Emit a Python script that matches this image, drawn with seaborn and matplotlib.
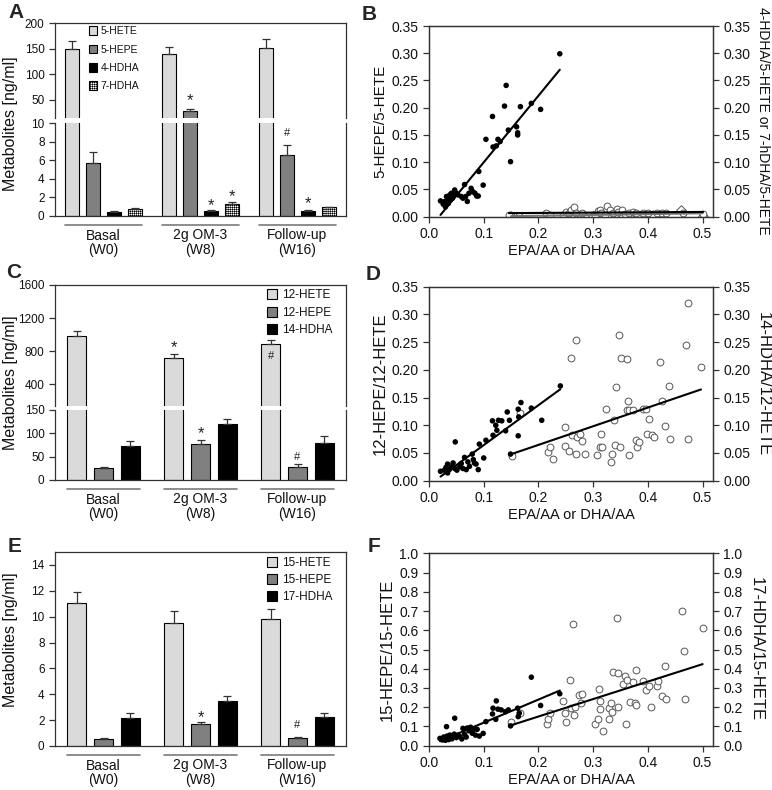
import numpy as np
import pandas as pd
import matplotlib
matplotlib.use("Agg")
import matplotlib.pyplot as plt
import matplotlib.transforms as mtransforms
from matplotlib.patches import Patch
import seaborn as sns

sns.set_theme(style="ticks")
plt.rcParams["font.family"] = ["Liberation Sans", "DejaVu Sans"]
plt.rcParams["hatch.linewidth"] = 0.4

# ---------------- data ----------------
groups = ["Basal\n(W0)", "2g OM-3\n(W8)", "Follow-up\n(W16)"]

# Panel A (ng/ml)
a_names = ["5-HETE", "5-HEPE", "4-HDHA", "7-HDHA"]
a_hete5 = [150, 139, 151]
a_hepe5 = [5.7, 27.2, 6.6]
a_hdha4 = [0.45, 0.58, 0.57]
a_hdha7 = [0.72, 1.3, 0.94]
a_hete5_err = [15, 14, 18]
a_hepe5_err = [1.2, 5.0, 1.0]
a_hdha4_err = [0.05, 0.07, 0.05]
a_hdha7_err = [0.1, 0.25, 0.07]

# Panel C (ng/ml)
c_names = ["12-HETE", "12-HEPE", "14-HDHA"]
c_hete12 = [978, 714, 883]
c_hepe12 = [25, 77, 28.5]
c_hdha14 = [73.6, 120, 80]
c_hete12_err = [62, 54, 49]
c_hepe12_err = [2, 8, 5]
c_hdha14_err = [10, 11.5, 14]

# Panel E (ng/ml)
e_names = ["15-HETE", "15-HEPE", "17-HDHA"]
e_hete15 = [11.04, 9.5, 9.82]
e_hepe15 = [0.57, 1.68, 0.62]
e_hdha17 = [2.2, 3.49, 2.25]
e_hete15_err = [0.86, 0.9, 0.8]
e_hepe15_err = [0.05, 0.16, 0.05]
e_hdha17_err = [0.35, 0.34, 0.34]

# Panel B
b_epa = [0.021, 0.026, 0.029, 0.030, 0.032, 0.035, 0.035, 0.038, 0.039, 0.041, 0.043, 0.044, 0.047, 0.050, 0.053,
         0.059, 0.062, 0.065, 0.067, 0.070, 0.073, 0.077, 0.080, 0.084, 0.087, 0.090, 0.091, 0.099, 0.104, 0.116,
         0.117, 0.123, 0.126, 0.130, 0.138, 0.141, 0.145, 0.149, 0.160, 0.162, 0.162, 0.167, 0.187, 0.204, 0.239]
b_hepe = [0.029, 0.023, 0.028, 0.018, 0.037, 0.032, 0.024, 0.040, 0.031, 0.043, 0.034, 0.037, 0.049, 0.043, 0.040,
          0.037, 0.034, 0.059, 0.037, 0.028, 0.043, 0.052, 0.046, 0.043, 0.038, 0.038, 0.083, 0.058, 0.142, 0.184,
          0.128, 0.130, 0.142, 0.138, 0.203, 0.241, 0.159, 0.101, 0.165, 0.154, 0.150, 0.202, 0.208, 0.197, 0.299]
b_dha = [0.146, 0.165, 0.213, 0.221, 0.245, 0.251, 0.256, 0.260, 0.265, 0.268, 0.279, 0.303, 0.309, 0.312, 0.315,
         0.321, 0.326, 0.330, 0.336, 0.343, 0.346, 0.352, 0.358, 0.366, 0.373, 0.379, 0.391, 0.400, 0.416, 0.425,
         0.434, 0.464, 0.501]
b_hdha4 = [0.003, 0.001, 0.007, 0.003, 0.003, 0.009, 0.006, 0.012, 0.017, 0.006, 0.006, 0.001, 0.011, 0.013, 0.006,
           0.003, 0.020, 0.012, 0.007, 0.015, 0.009, 0.012, 0.005, 0.007, 0.009, 0.006, 0.006, 0.007, 0.006, 0.006,
           0.007, 0.007, 0.005]
b_dha7 = [0.150, 0.218, 0.262, 0.300, 0.340, 0.380, 0.410, 0.461, 0.500]
b_hdha7 = [0.001, 0.002, 0.004, 0.002, 0.003, 0.004, 0.003, 0.013, 0.002]

# Panel D
d_epa = [0.021, 0.028, 0.031, 0.034, 0.037, 0.034, 0.041, 0.044, 0.047, 0.048, 0.051, 0.056, 0.059, 0.062, 0.065,
         0.068, 0.071, 0.074, 0.079, 0.081, 0.083, 0.086, 0.090, 0.092, 0.100, 0.104, 0.116, 0.117, 0.122, 0.124,
         0.127, 0.133, 0.140, 0.143, 0.147, 0.149, 0.163, 0.163, 0.164, 0.168, 0.187, 0.206, 0.240]
d_hepe = [0.017, 0.019, 0.024, 0.014, 0.020, 0.030, 0.025, 0.032, 0.022, 0.070, 0.019, 0.025, 0.031, 0.022, 0.042,
          0.020, 0.034, 0.026, 0.048, 0.038, 0.032, 0.030, 0.020, 0.066, 0.041, 0.073, 0.108, 0.082, 0.100, 0.091,
          0.109, 0.108, 0.090, 0.124, 0.109, 0.048, 0.129, 0.081, 0.115, 0.141, 0.131, 0.109, 0.171]
d_dha = [0.151, 0.166, 0.218, 0.222, 0.226, 0.248, 0.248, 0.256, 0.260, 0.262, 0.268, 0.269, 0.270, 0.276, 0.280,
         0.285, 0.307, 0.313, 0.315, 0.317, 0.323, 0.332, 0.335, 0.338, 0.340, 0.341, 0.348, 0.349, 0.350, 0.362,
         0.362, 0.364, 0.366, 0.366, 0.373, 0.378, 0.380, 0.384, 0.391, 0.396, 0.398, 0.402, 0.408, 0.411, 0.422,
         0.425, 0.431, 0.439, 0.440, 0.470, 0.474, 0.474, 0.497]
d_hdha = [0.045, 0.122, 0.051, 0.061, 0.040, 0.096, 0.063, 0.054, 0.222, 0.082, 0.254, 0.048, 0.078, 0.084, 0.072,
          0.048, 0.046, 0.061, 0.084, 0.060, 0.130, 0.034, 0.048, 0.109, 0.064, 0.169, 0.262, 0.060, 0.221, 0.219,
          0.127, 0.144, 0.127, 0.046, 0.127, 0.073, 0.060, 0.069, 0.129, 0.130, 0.084, 0.111, 0.082, 0.078, 0.215,
          0.143, 0.099, 0.171, 0.076, 0.245, 0.320, 0.076, 0.205]

# Panel F
f_epa = [0.020, 0.024, 0.027, 0.029, 0.030, 0.032, 0.033, 0.035, 0.036, 0.038, 0.040, 0.042, 0.044, 0.046, 0.047,
         0.050, 0.053, 0.056, 0.060, 0.062, 0.065, 0.068, 0.070, 0.073, 0.076, 0.079, 0.082, 0.085, 0.088, 0.092,
         0.099, 0.104, 0.116, 0.117, 0.122, 0.123, 0.126, 0.132, 0.140, 0.145, 0.149, 0.162, 0.163, 0.165, 0.187,
         0.204, 0.239]
f_hepe = [0.038, 0.030, 0.045, 0.035, 0.028, 0.099, 0.050, 0.040, 0.032, 0.055, 0.045, 0.036, 0.050, 0.060, 0.143,
          0.042, 0.055, 0.048, 0.035, 0.090, 0.060, 0.045, 0.092, 0.078, 0.096, 0.065, 0.085, 0.055, 0.085, 0.050,
          0.064, 0.125, 0.165, 0.195, 0.137, 0.233, 0.190, 0.186, 0.177, 0.186, 0.103, 0.195, 0.151, 0.169, 0.356,
          0.209, 0.270]
f_dha = [0.149, 0.166, 0.215, 0.218, 0.222, 0.244, 0.248, 0.251, 0.257, 0.260, 0.263, 0.265, 0.266, 0.274, 0.277,
         0.279, 0.303, 0.309, 0.310, 0.312, 0.313, 0.318, 0.329, 0.329, 0.332, 0.335, 0.337, 0.344, 0.345, 0.346,
         0.355, 0.359, 0.360, 0.361, 0.367, 0.372, 0.376, 0.378, 0.379, 0.391, 0.396, 0.402, 0.405, 0.416, 0.419,
         0.425, 0.432, 0.433, 0.463, 0.466, 0.468, 0.500]
f_hdha = [0.122, 0.168, 0.113, 0.139, 0.169, 0.230, 0.172, 0.122, 0.343, 0.195, 0.635, 0.160, 0.203, 0.264, 0.224,
          0.270, 0.113, 0.137, 0.294, 0.233, 0.190, 0.077, 0.137, 0.198, 0.221, 0.177, 0.383, 0.664, 0.200, 0.377,
          0.322, 0.360, 0.111, 0.343, 0.226, 0.330, 0.221, 0.391, 0.212, 0.337, 0.290, 0.308, 0.203, 0.308, 0.334,
          0.256, 0.412, 0.243, 0.699, 0.494, 0.242, 0.612]

# ---------------- style ----------------
C_LIGHT, C_MID, C_DARK = "#dadada", "#808080", "#000000"
SPINE = "#333333"
TXT = "#111111"

W, H = 772, 790
fig = plt.figure(figsize=(W / 100, H / 100), dpi=100)


def rect(x0, y0, x1, y1):
    return [x0 / W, 1 - y1 / H, (x1 - x0) / W, (y1 - y0) / H]


def style_axes(ax, hide=()):
    for s in ax.spines.values():
        s.set_color(SPINE)
        s.set_linewidth(0.9)
    for s in hide:
        ax.spines[s].set_visible(False)
    ax.tick_params(direction="out", length=4, width=0.9, color=SPINE, labelcolor=TXT)


def bar_panel(axes, names, series, errs, colors, hatches, width, gap, ylims, yticks, marks,
              legend_ax, legend_anchor, legend_kw):
    df = pd.DataFrame({
        "group": [g for s in series for g in groups],
        "metabolite": [n for n, s in zip(names, series) for _ in groups],
        "value": [v for s in series for v in s],
    })
    n_ax = len(axes)
    bar_sets = []
    for k, (ax, yl, yt) in enumerate(zip(axes, ylims, yticks)):
        sns.barplot(data=df, x="group", y="value", hue="metabolite", order=groups, hue_order=names,
                    palette=dict(zip(names, colors)), width=width, gap=gap, saturation=1,
                    edgecolor="black", linewidth=0.8, errorbar=None, legend=False, ax=ax)
        conts = list(ax.containers)[:len(names)]
        bar_sets.append(conts)
        for cont, err, h in zip(conts, errs, hatches):
            for bar, e in zip(cont, err):
                if h:
                    bar.set_hatch(h)
                top = bar.get_height()
                if yl[0] <= top <= yl[1]:
                    xc = bar.get_x() + bar.get_width() / 2
                    ax.errorbar(xc, top, yerr=[[0], [e]], fmt="none", ecolor="#333333",
                                elinewidth=0.9, capsize=3, capthick=0.9, zorder=1)
        ax.set_ylim(*yl)
        ax.set_xlim(-0.5, 2.5)
        ax.set_xlabel("")
        ax.set_ylabel("")
        hide = []
        if k < n_ax - 1:
            hide.append("bottom")
        if k > 0:
            hide.append("top")
        style_axes(ax, hide)
        ax.set_yticks(yt, labels=[str(t) for t in yt], fontsize=8.5)
        ax.tick_params(axis="y", right=False)
        if k < n_ax - 1:
            ax.tick_params(axis="x", bottom=False, labelbottom=False)
    # significance marks
    for ai, gi, hi, y, txt in marks:
        ax = axes[ai]
        bar = bar_sets[ai][hi][gi]
        xc = bar.get_x() + bar.get_width() / 2
        if txt == "*":
            ax.annotate(txt, (xc, y), xytext=(0, -4), textcoords="offset points", ha="center",
                        va="center", fontsize=12, color="#222222", annotation_clip=False)
        else:
            ax.annotate(txt, (xc, y), ha="center", va="center", fontsize=8, color="#222222",
                        annotation_clip=False)
    # group labels and lines
    low = axes[-1]
    low_bars = bar_sets[-1]
    low.set_xticks(range(3), labels=groups, fontsize=10, linespacing=1.05, color=TXT)
    low.tick_params(axis="x", length=0, pad=9)
    trans = mtransforms.offset_copy(low.get_xaxis_transform(), fig=fig, y=-9, units="dots")
    for gi in range(3):
        x0 = low_bars[0][gi].get_x()
        last = low_bars[-1][gi]
        x1 = last.get_x() + last.get_width()
        low.plot([x0, x1], [0, 0], transform=trans, color="#7a7a7a", lw=1.2, clip_on=False)
    handles = [Patch(facecolor=c, edgecolor="black", hatch=h, linewidth=0.8, label=n)
               for n, c, h in zip(names, colors, hatches)]
    legend_ax.legend(handles=handles, loc="upper left", bbox_to_anchor=legend_anchor, frameon=False,
                     borderaxespad=0, borderpad=0, labelcolor=TXT, **legend_kw)


# Panel A
axA1 = fig.add_axes(rect(55, 23, 346, 118))
axA2 = fig.add_axes(rect(55, 123, 346, 216))
bar_panel([axA1, axA2], a_names, [a_hete5, a_hepe5, a_hdha4, a_hdha7],
          [a_hete5_err, a_hepe5_err, a_hdha4_err, a_hdha7_err],
          [C_LIGHT, C_MID, C_DARK, "white"], [None, None, None, "++++++++"], 0.86, 0.33,
          [(14, 200), (0, 10)], [[50, 100, 150, 200], [0, 2, 4, 6, 8, 10]],
          [(0, 1, 1, 58, "*"), (1, 1, 2, 1.7, "*"), (1, 1, 3, 2.7, "*"), (1, 2, 1, 8.9, "#"),
           (1, 2, 2, 1.9, "*")],
          axA1, (0.118, 0.965),
          dict(fontsize=7.5, handlelength=0.7, handleheight=0.9, labelspacing=0.8, handletextpad=0.35))

# Panel C
axC1 = fig.add_axes(rect(55, 285, 346, 406))
axC2 = fig.add_axes(rect(55, 410, 346, 480))
bar_panel([axC1, axC2], c_names, [c_hete12, c_hepe12, c_hdha14],
          [c_hete12_err, c_hepe12_err, c_hdha14_err],
          [C_LIGHT, C_MID, C_DARK], [None, None, None], 0.83, 0.31,
          [(135, 1600), (0, 150)], [[400, 800, 1200, 1600], [0, 50, 100, 150]],
          [(0, 1, 0, 904, "*"), (0, 2, 0, 738, "#"), (1, 1, 1, 111, "*"), (1, 2, 1, 50, "#")],
          axC1, (0.728, 0.965),
          dict(fontsize=8.5, handlelength=0.85, handleheight=0.95, labelspacing=0.45, handletextpad=0.45))

# Panel E
axE = fig.add_axes(rect(55, 552, 346, 746))
bar_panel([axE], e_names, [e_hete15, e_hepe15, e_hdha17],
          [e_hete15_err, e_hepe15_err, e_hdha17_err],
          [C_LIGHT, C_MID, C_DARK], [None, None, None], 0.83, 0.31,
          [(0, 15)], [[0, 2, 4, 6, 8, 10, 12, 14]],
          [(0, 1, 1, 2.64, "*"), (0, 2, 1, 1.6, "#")],
          axE, (0.728, 0.973),
          dict(fontsize=8.5, handlelength=0.85, handleheight=0.95, labelspacing=0.4, handletextpad=0.45))

for yc in (124, 383, 640):
    fig.text(11 / W, 1 - yc / H, "Metabolites [ng/ml]", rotation=90, ha="center", va="center",
             fontsize=11.5, color=TXT)


# ---------------- scatter panels ----------------
def scatter_panel(r, fx, fy, open_sets, ylim, yticks, fmt, ylab_l, ylab_r, lsize, rsize):
    ax = fig.add_axes(r)
    sns.regplot(x=fx, y=fy, ax=ax, ci=None, truncate=True, color="black",
                scatter_kws=dict(s=16, edgecolors="none", alpha=1, zorder=3),
                line_kws=dict(lw=1.5, zorder=4))
    for ox, oy, mk, lc in open_sets:
        sns.regplot(x=ox, y=oy, ax=ax, ci=None, truncate=True, color=lc, marker=mk,
                    scatter_kws=dict(s=24, facecolors="white", edgecolors="#555555", linewidths=0.7,
                                     alpha=1, zorder=2),
                    line_kws=dict(lw=1.5, color=lc, zorder=4))
    ax.set_xlim(0, 0.519)
    ax.set_ylim(*ylim)
    style_axes(ax)
    xt = [0.0, 0.1, 0.2, 0.3, 0.4, 0.5]
    ax.set_xticks(xt, labels=[f"{t:.1f}" for t in xt], fontsize=10)
    ax.set_yticks(yticks, labels=[fmt.format(t) for t in yticks], fontsize=10)
    ax.set_xlabel("EPA/AA or DHA/AA", fontsize=10.5, labelpad=2, color=TXT)
    ax.set_ylabel(ylab_l, fontsize=lsize, labelpad=3, color=TXT)
    ax2 = ax.twinx()
    ax2.set_ylim(*ylim)
    style_axes(ax2)
    ax2.set_yticks(yticks, labels=[fmt.format(t) for t in yticks], fontsize=10)
    ax2.set_ylabel(ylab_r, fontsize=rsize, rotation=270, va="bottom", labelpad=4, color=TXT)
    return ax


scatter_panel(rect(429, 26, 713, 216.7), b_epa, b_hepe,
              [(b_dha7, b_hdha7, "D", "#777777"), (b_dha, b_hdha4, "o", "black")],
              (0, 0.35), [0, 0.05, 0.10, 0.15, 0.20, 0.25, 0.30, 0.35], "{:.2f}",
              "5-HEPE/5-HETE", "4-HDHA/5-HETE or 7-hDHA/5-HETE", 11, 10)
scatter_panel(rect(429, 286.7, 713, 480.7), d_epa, d_hepe,
              [(d_dha, d_hdha, "o", "black")],
              (0, 0.35), [0, 0.05, 0.10, 0.15, 0.20, 0.25, 0.30, 0.35], "{:.2f}",
              "12-HEPE/12-HETE", "14-HDHA/12-HETE", 12, 12)
scatter_panel(rect(429, 553.3, 713, 745.7), f_epa, f_hepe,
              [(f_dha, f_hdha, "o", "black")],
              (0, 1.0), [0, 0.1, 0.2, 0.3, 0.4, 0.5, 0.6, 0.7, 0.8, 0.9, 1.0], "{:.1f}",
              "15-HEPE/15-HETE", "17-HDHA/15-HETE", 12, 12)

# panel letters
for letter, x, y in [("A", 8, 3), ("B", 362, 5), ("C", 6, 263), ("D", 366, 265), ("E", 8, 537), ("F", 368, 537)]:
    fig.text(x / W, 1 - y / H, letter, fontsize=15, fontweight="bold", ha="left", va="top")

fig.savefig("out.png", dpi=100)
